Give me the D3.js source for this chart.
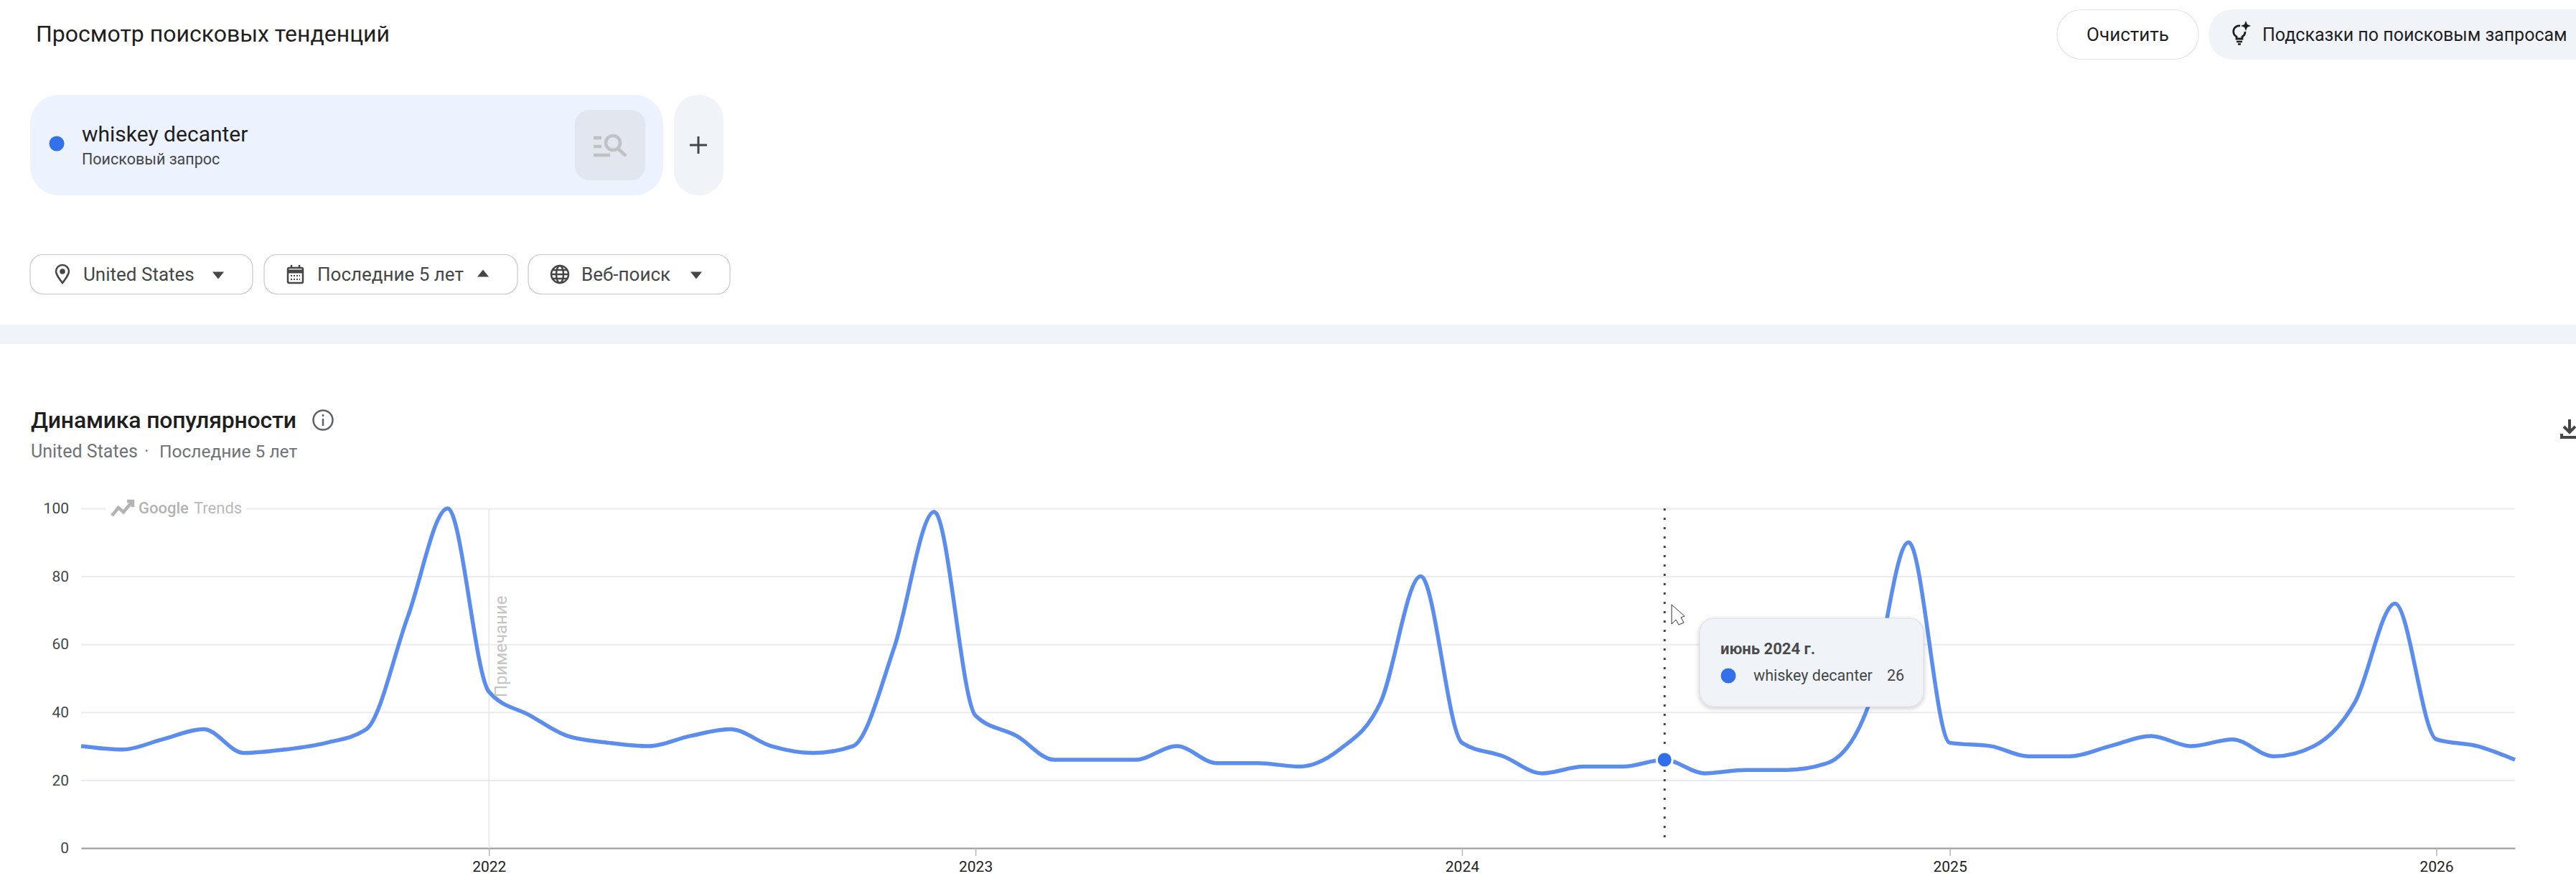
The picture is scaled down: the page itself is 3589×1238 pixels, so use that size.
<!DOCTYPE html>
<html>
<head>
<meta charset="utf-8">
<script src="https://cdnjs.cloudflare.com/ajax/libs/d3/7.8.5/d3.min.js"></script>
<style>
  html, body { margin: 0; padding: 0; background: #fff; overflow: hidden; }
  text { font-family: Roboto, "Noto Sans", sans-serif; }
</style>
</head>
<body>
<div id="viz"></div>
<script>
// monthly search interest, March 2021 to March 2026
var startMonth = new Date(2021, 2, 1);
var interest = [
  30, 29, 32, 35, 28, 29, 31, 35, 68, 100,
  46, 39, 33, 31, 30, 33, 35, 30, 28, 30, 59, 99,
  39, 33, 26, 26, 26, 30, 25, 25, 24, 29, 43, 80,
  31, 27, 22, 24, 24, 26, 22, 23, 23, 25, 42, 90,
  31, 30, 27, 27, 30, 33, 30, 32, 27, 30, 43, 72,
  32, 30, 26
];
var months = interest.map(function(d, i) { return d3.timeMonth.offset(startMonth, i); });
var yTicks = [0, 20, 40, 60, 80, 100];
var yearTicks = [2022, 2023, 2024, 2025, 2026];
var hoverMonth = new Date(2024, 5, 1);
var hoverValue = 26;
var termName = "whiskey decanter";

var width = 3589, height = 1238;
var margin = {top: 708, right: 85, bottom: 57, left: 113};

var svg = d3.select("#viz").append("svg")
    .attr("width", width).attr("height", height)
    .attr("viewBox", "0 0 " + width + " " + height)
    .style("display", "block");

function label(x, y, str, size, color, anchor, weight) {
  return svg.append("text").attr("x", x).attr("y", y).text(str)
    .attr("font-size", size).attr("fill", color)
    .attr("text-anchor", anchor || "start")
    .attr("font-weight", weight || 400);
}
function box(x, y, w, h, r, fill, stroke) {
  return svg.append("rect").attr("x", x).attr("y", y).attr("width", w).attr("height", h)
    .attr("rx", r).attr("fill", fill).attr("stroke", stroke || "none").attr("stroke-width", stroke ? 1.2 : 0);
}
function triangle(cx, cy, up) {
  var d = up ? [[-8, 4.5], [8, 4.5], [0, -5.5]] : [[-8, -4.5], [8, -4.5], [0, 5.5]];
  svg.append("path").attr("d", "M" + d.map(function(p) { return [cx + p[0], cy + p[1]].join(","); }).join("L") + "Z").attr("fill", "#444746");
}

// header
label(50, 58, "Просмотр поисковых тенденций", 32, "#1f1f1f");
box(2866, 13.5, 197, 69, 34, "#fff", "#e3e3e3");
label(2964.5, 57, "Очистить", 26, "#1f1f1f", "middle");
box(3077, 13, 560, 70, 34, "#f0f4f9");
label(3152, 57, "Подсказки по поисковым запросам", 25, "#1f1f1f");
// bulb icon
var bulb = svg.append("g").attr("transform", "translate(3120,46)").attr("fill", "none").attr("stroke", "#1f1f1f").attr("stroke-width", 2.8);
bulb.append("path").attr("d", "M1,-10 A8,8 0 0 0 -4,5 L-4,8 L4,8 L4,5 A8,8 0 0 0 8,-2");
bulb.append("path").attr("d", "M-4,12 L4,12").attr("stroke-width", 2.5);
bulb.append("path").attr("d", "M-2,15.5 L2,15.5").attr("stroke-width", 2.5);
bulb.append("path").attr("d", "M9,-17 L11,-12 L16,-10 L11,-8 L9,-3 L7,-8 L2,-10 L7,-12 Z").attr("fill", "#1f1f1f").attr("stroke", "none");

// query card
box(42, 132, 882, 140, 40, "#ecf2fe");
svg.append("circle").attr("cx", 79).attr("cy", 200).attr("r", 10.5).attr("fill", "#3271ea");
label(114, 197, termName, 30, "#1f1f1f");
label(114, 229, "Поисковый запрос", 21.5, "#444746");
box(801, 153, 98, 98, 20, "#e1e6ef");
var sIcon = svg.append("g").attr("fill", "none").attr("stroke", "#bfc1c4").attr("stroke-width", 4.5);
sIcon.append("circle").attr("cx", 854).attr("cy", 199).attr("r", 10);
sIcon.append("path").attr("d", "M861,207 L872,217");
sIcon.append("path").attr("d", "M827,192 L838,192 M827,204 L838,204 M827,216 L850,216");
box(939, 132, 69, 140, 34, "#f0f4f9");
svg.append("path").attr("d", "M973,190 V214 M961,202 H985").attr("stroke", "#444746").attr("stroke-width", 3).attr("fill", "none");

// filter pills
box(42, 354.5, 310, 55, 18, "#fff", "#c7c7c7");
box(368, 354.5, 353, 55, 18, "#fff", "#c7c7c7");
box(736, 354.5, 281, 55, 18, "#fff", "#c7c7c7");
label(116, 391, "United States", 26, "#444746");
label(442, 391, "Последние 5 лет", 26, "#444746");
label(810, 391, "Веб-поиск", 26, "#444746");
triangle(304, 383, false);
triangle(673, 381, true);
triangle(970, 383, false);
var pin = svg.append("g").attr("fill", "none").attr("stroke", "#444746").attr("stroke-width", 2.5);
pin.append("path").attr("d", "M87,394 C81,386 78,382 78,378 A9,9 0 0 1 96,378 C96,382 93,386 87,394 Z");
pin.append("circle").attr("cx", 87).attr("cy", 378).attr("r", 2.5).attr("fill", "#444746");
var cal = svg.append("g").attr("fill", "none").attr("stroke", "#444746").attr("stroke-width", 2.5);
cal.append("rect").attr("x", 401).attr("y", 373).attr("width", 21).attr("height", 21).attr("rx", 2);
cal.append("path").attr("d", "M401,378 H422").attr("stroke-width", 5);
cal.append("path").attr("d", "M406,369 V373 M417,369 V373");
cal.append("path").attr("d", "M405,384 H418 M405,389 H418").attr("stroke-width", 2).attr("stroke-dasharray", "2,2");
var globe = svg.append("g").attr("fill", "none").attr("stroke", "#444746").attr("stroke-width", 2.5);
globe.append("circle").attr("cx", 780).attr("cy", 382).attr("r", 12);
globe.append("ellipse").attr("cx", 780).attr("cy", 382).attr("rx", 5).attr("ry", 12);
globe.append("path").attr("d", "M768,382 H792 M770,376 H790 M770,388 H790");

// gray band between the sections
svg.append("rect").attr("x", 0).attr("y", 452).attr("width", width).attr("height", 27).attr("fill", "#f0f4f9");

// section heading
label(43, 596, "Динамика популярности", 32, "#1f1f1f", "start", 500).attr("letter-spacing", -0.2);
svg.append("circle").attr("cx", 450).attr("cy", 585).attr("r", 13.5).attr("fill", "none").attr("stroke", "#5f6368").attr("stroke-width", 2.5);
svg.append("path").attr("d", "M450,583 V593 M450,577 V580").attr("stroke", "#5f6368").attr("stroke-width", 2.5);
label(43, 637, "United States", 25, "#6f7276");
label(201, 637, "·", 25, "#6f7276");
label(222, 637, "Последние 5 лет", 24.5, "#6f7276");
svg.append("path").attr("d", "M3580,584 V602 M3572,594 L3580,602 L3588,594 M3569,604 V609 H3589")
  .attr("fill", "none").attr("stroke", "#444746").attr("stroke-width", 4);

// chart scales
var x = d3.scaleTime()
    .domain([months[0], months[months.length - 1]])
    .range([margin.left, width - margin.right]);
var y = d3.scaleLinear().domain([0, 100]).range([height - margin.bottom, margin.top]);

// y grid and labels via the axis
var yAxis = svg.append("g").attr("transform", "translate(" + margin.left + ",0)")
  .call(d3.axisLeft(y).tickValues(yTicks).tickSize(-(width - margin.left - margin.right)).tickPadding(17));
yAxis.select(".domain").remove();
yAxis.selectAll("line").attr("stroke", "#e9ebee").attr("stroke-width", 2);
yAxis.selectAll("text").attr("font-size", 21).attr("fill", "#444746").style("font-family", "Roboto");

// x axis
var xAxis = svg.append("g").attr("transform", "translate(0," + y(0) + ")")
  .call(d3.axisBottom(x)
    .tickValues(yearTicks.map(function(d) { return new Date(d, 0, 1); }))
    .tickFormat(d3.timeFormat("%Y")).tickSize(11).tickSizeOuter(0).tickPadding(7));
xAxis.select(".domain").attr("stroke", "#9a9a9a").attr("stroke-width", 2);
xAxis.selectAll("line").attr("stroke", "#b5b5b5").attr("stroke-width", 1.5);
xAxis.selectAll("text").attr("font-size", 21).attr("fill", "#1f1f1f").style("font-family", "Roboto");

// annotation line at 2022
var noteX = x(new Date(2022, 0, 1));
svg.append("line").attr("x1", noteX).attr("x2", noteX).attr("y1", y(100)).attr("y2", y(0))
  .attr("stroke", "#e4e7ee").attr("stroke-width", 1.5);

// trend line
var line = d3.line()
    .x(function(d, i) { return x(months[i]); })
    .y(function(d) { return y(d); })
    .curve(d3.curveMonotoneX);
svg.append("path").datum(interest).attr("d", line)
  .attr("fill", "none").attr("stroke", "#5b8def").attr("stroke-width", 5.5).attr("stroke-linejoin", "round");

svg.append("text").attr("transform", "translate(706,971) rotate(-90)").text("Примечание")
  .attr("font-size", 24).attr("fill", "#c4c4c4");

// google trends watermark knocks out the top gridline
svg.append("rect").attr("x", 147).attr("y", 700).attr("width", 196).attr("height", 16).attr("fill", "#fff");
svg.append("path").attr("d", "M156,718 L165,707 L172,713 L184,699 M177,698 H185 V706")
  .attr("fill", "none").attr("stroke", "#b3b3b3").attr("stroke-width", 4.5);
label(193, 715, "Google", 22, "#b3b3b3", "start", 500);
label(270, 715, "Trends", 22, "#b9b9b9");

// hover state
var hx = x(hoverMonth), hy = y(hoverValue);
svg.append("line").attr("x1", hx).attr("x2", hx).attr("y1", y(100)).attr("y2", y(2))
  .attr("stroke", "#444746").attr("stroke-width", 3).attr("stroke-dasharray", "3,10");
svg.append("circle").attr("cx", hx).attr("cy", hy).attr("r", 11).attr("fill", "#2f6fec").attr("stroke", "#fff").attr("stroke-width", 3);

// tooltip
var defs = svg.append("defs");
var shadow = defs.append("filter").attr("id", "tipShadow").attr("x", "-10%").attr("y", "-20%").attr("width", "120%").attr("height", "140%");
shadow.append("feDropShadow").attr("dx", 0).attr("dy", 2).attr("stdDeviation", 3).attr("flood-color", "#000").attr("flood-opacity", 0.22);
box(2368, 861, 312, 123, 20, "#f0f4f9", "#dcdee2").attr("filter", "url(#tipShadow)");
label(2397, 911, d3.timeFormat("июнь %Y г.")(hoverMonth), 22, "#4a4a4a", "start", 700);
svg.append("circle").attr("cx", 2408).attr("cy", 941).attr("r", 10.5).attr("fill", "#3271ea");
label(2443, 948, termName, 21.5, "#444746");
label(2629, 948, hoverValue, 21.5, "#444746");

// mouse pointer caught in the screenshot
svg.append("path").attr("d", "M2329,842 V869 L2335,863 L2339,870 L2346,867 L2342,860 L2347,858 Z")
  .attr("fill", "#fff").attr("stroke", "#333").attr("stroke-width", 1);
</script>
</body>
</html>
